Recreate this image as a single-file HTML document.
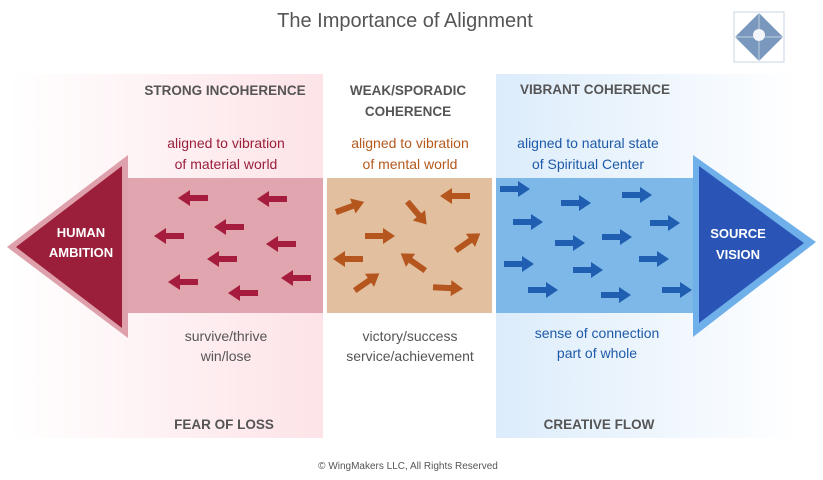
<!DOCTYPE html>
<html><head><meta charset="utf-8"><style>
html,body{margin:0;padding:0;background:#fff;}
svg{display:block;}
text{font-family:"Liberation Sans","DejaVu Sans",sans-serif;}
</style></head><body>
<svg width="823" height="480" viewBox="0 0 823 480" xmlns="http://www.w3.org/2000/svg">
<defs>
<linearGradient id="pk" x1="0" x2="1" y1="0" y2="0"><stop offset="0" stop-color="#ffffff"/><stop offset="1" stop-color="#fde3e7"/></linearGradient>
<linearGradient id="bl" x1="0" x2="1" y1="0" y2="0"><stop offset="0" stop-color="#dcecfb"/><stop offset="1" stop-color="#ffffff"/></linearGradient>
<path id="ar" d="M-15,-3 L3,-3 L3,-8 L15,0 L3,8 L3,3 L-15,3 Z"/>
</defs>
<rect width="823" height="480" fill="#fff"/>
<text x="405" y="27" text-anchor="middle" font-size="20" fill="#555">The Importance of Alignment</text>
<!-- logo -->
<rect x="734" y="12" width="50" height="50" fill="#fff" stroke="#c8d4e4" stroke-width="1"/>
<polygon points="759,13 783,37 759,61 735,37" fill="#7a98bd"/>
<line x1="759" y1="13" x2="759" y2="61" stroke="#dde6f0" stroke-width="0.7"/>
<line x1="735" y1="37" x2="783" y2="37" stroke="#dde6f0" stroke-width="0.7"/>
<circle cx="759" cy="35" r="6" fill="#f2f5f9"/>
<!-- panels -->
<rect x="8" y="74" width="315" height="364" fill="url(#pk)"/>
<rect x="496" y="74" width="304" height="364" fill="url(#bl)"/>
<!-- bands -->
<rect x="128" y="178" width="195" height="135" fill="#e0a5ae"/>
<rect x="327" y="178" width="165" height="135" fill="#e2bf9f"/>
<rect x="496" y="178" width="200" height="135" fill="#7db8e8"/>
<!-- left arrowhead -->
<polygon points="7,247 128,155 128,338" fill="#dea0aa"/>
<polygon points="16,247 122,166 122,328" fill="#9b1e3a"/>
<!-- right arrowhead -->
<polygon points="693,155 816,242 693,337" fill="#6fb0ea"/>
<polygon points="699,166 804,243 699,323" fill="#2a55b7"/>
<!-- pink arrows -->
<g fill="#a51c3e">
<use href="#ar" transform="translate(193,198) rotate(180)"/>
<use href="#ar" transform="translate(272,199) rotate(180)"/>
<use href="#ar" transform="translate(229,227) rotate(180)"/>
<use href="#ar" transform="translate(169,236) rotate(180)"/>
<use href="#ar" transform="translate(281,244) rotate(180)"/>
<use href="#ar" transform="translate(222,259) rotate(180)"/>
<use href="#ar" transform="translate(183,282) rotate(180)"/>
<use href="#ar" transform="translate(296,278) rotate(180)"/>
<use href="#ar" transform="translate(243,293) rotate(180)"/>
</g>
<!-- tan arrows -->
<g fill="#b4561d">
<use href="#ar" transform="translate(350,207) rotate(-20)"/>
<use href="#ar" transform="translate(417,213) rotate(50)"/>
<use href="#ar" transform="translate(455,196) rotate(180)"/>
<use href="#ar" transform="translate(380,236) rotate(0)"/>
<use href="#ar" transform="translate(468,242) rotate(-35)"/>
<use href="#ar" transform="translate(348,259) rotate(180)"/>
<use href="#ar" transform="translate(413,262) rotate(215)"/>
<use href="#ar" transform="translate(367,282) rotate(-35)"/>
<use href="#ar" transform="translate(448,288) rotate(3)"/>
</g>
<!-- blue arrows -->
<g fill="#1f5eb0">
<use href="#ar" transform="translate(515,189)"/>
<use href="#ar" transform="translate(576,203)"/>
<use href="#ar" transform="translate(637,195)"/>
<use href="#ar" transform="translate(528,222)"/>
<use href="#ar" transform="translate(665,223)"/>
<use href="#ar" transform="translate(570,243)"/>
<use href="#ar" transform="translate(617,237)"/>
<use href="#ar" transform="translate(519,264)"/>
<use href="#ar" transform="translate(588,270)"/>
<use href="#ar" transform="translate(654,259)"/>
<use href="#ar" transform="translate(543,290)"/>
<use href="#ar" transform="translate(616,295)"/>
<use href="#ar" transform="translate(677,290)"/>
</g>
<!-- arrowhead labels -->
<g font-weight="bold" font-size="13" fill="#fff" text-anchor="middle">
<text x="81" y="237">HUMAN</text><text x="81" y="257">AMBITION</text>
<text x="738" y="238">SOURCE</text><text x="738" y="259">VISION</text>
</g>
<!-- headers -->
<g font-weight="bold" font-size="13.5" fill="#555" text-anchor="middle">
<text x="225" y="95">STRONG INCOHERENCE</text>
<text x="408" y="95">WEAK/SPORADIC</text><text x="408" y="116">COHERENCE</text>
<text x="595" y="94">VIBRANT COHERENCE</text>
<text x="224" y="429">FEAR OF LOSS</text>
<text x="599" y="429">CREATIVE FLOW</text>
</g>
<g font-size="14" text-anchor="middle">
<text x="226" y="148" fill="#9b1e3a">aligned to vibration</text>
<text x="226" y="169" fill="#9b1e3a">of material world</text>
<text x="410" y="148" fill="#b5591c">aligned to vibration</text>
<text x="410" y="169" fill="#b5591c">of mental world</text>
<text x="588" y="148" fill="#1e5aa8">aligned to natural state</text>
<text x="588" y="169" fill="#1e5aa8">of Spiritual Center</text>
<text x="226" y="341" fill="#555">survive/thrive</text>
<text x="226" y="361" fill="#555">win/lose</text>
<text x="410" y="341" fill="#555">victory/success</text>
<text x="410" y="361" fill="#555">service/achievement</text>
<text x="597" y="338" fill="#1e5aa8">sense of connection</text>
<text x="597" y="358" fill="#1e5aa8">part of whole</text>
</g>
<text x="408" y="469" text-anchor="middle" font-size="10" fill="#555">© WingMakers LLC, All Rights Reserved</text>
</svg>
</body></html>
